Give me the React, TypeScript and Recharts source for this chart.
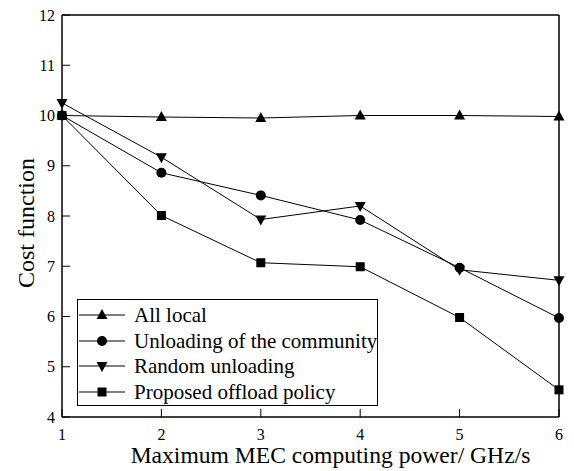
import { LineChart, Line, XAxis, YAxis, Legend, Label } from 'recharts'

// values
const powers = [1, 2, 3, 4, 5, 6]
const allLocal = [10, 9.97, 9.95, 10.0, 10.0, 9.98]
const community = [10, 8.86, 8.41, 7.92, 6.97, 5.97]
const randomUnload = [10.25, 9.17, 7.93, 8.2, 6.93, 6.72]
const proposed = [10, 8.01, 7.07, 6.99, 5.98, 4.54]

const xTicks = [1, 2, 3, 4, 5, 6]
const yTicks = [4, 5, 6, 7, 8, 9, 10, 11, 12]

const seriesNames = ['All local', 'Unloading of the community', 'Random unloading', 'Proposed offload policy']
const seriesKeys = ['allLocal', 'community', 'randomUnload', 'proposed']
const seriesShapes = ['triangle', 'circle', 'down', 'square']

const data = powers.map((x, i) => ({
  x,
  allLocal: allLocal[i],
  community: community[i],
  randomUnload: randomUnload[i],
  proposed: proposed[i],
}))

const FONT = '"Liberation Serif", "DejaVu Serif", serif'
const tickStyle = { fill: '#000', fontSize: 16, fontFamily: FONT, style: { fontFamily: FONT } }

function Marker({ shape, cx, cy }: { shape: string; cx: number; cy: number }) {
  if (shape === 'triangle') {
    return <polygon points={`${cx},${cy - 6} ${cx - 5.5},${cy + 4} ${cx + 5.5},${cy + 4}`} fill="#000" />
  }
  if (shape === 'down') {
    return <polygon points={`${cx},${cy + 6} ${cx - 5.5},${cy - 4} ${cx + 5.5},${cy - 4}`} fill="#000" />
  }
  if (shape === 'square') {
    return <rect x={cx - 4.5} y={cy - 4.5} width={9} height={9} fill="#000" />
  }
  return <circle cx={cx} cy={cy} r={5} fill="#000" />
}

function makeDot(shape: string) {
  return (props: any) => (
    <g key={`${shape}-${props.index}`}>
      <Marker shape={shape} cx={props.cx} cy={props.cy} />
    </g>
  )
}

function LegendBox() {
  return (
    <div
      style={{
        border: '1px solid #000',
        background: '#fff',
        boxSizing: 'border-box',
        width: 301,
        height: 107,
        padding: '2px 0',
        fontFamily: FONT,
        fontSize: 21,
        color: '#000',
      }}
    >
      {seriesNames.map((name, i) => (
        <div key={name} style={{ display: 'flex', alignItems: 'center', height: 25.7 }}>
          <svg width={56} height={20} style={{ flex: 'none' }}>
            <line x1={1} y1={10} x2={47} y2={10} stroke="#000" strokeWidth={1} />
            <Marker shape={seriesShapes[i]} cx={24} cy={10} />
          </svg>
          <span style={{ whiteSpace: 'nowrap', lineHeight: '20px' }}>{name}</span>
        </div>
      ))}
    </div>
  )
}

export default function App() {
  return (
    <div style={{ position: 'absolute', left: 0, top: 0, fontFamily: FONT }}>
      <LineChart
        width={574}
        height={471}
        data={data}
        margin={{ top: 0, right: 0, bottom: 0, left: 0 }}
        style={{ fontFamily: FONT }}
      >
        <XAxis
          dataKey="x"
          type="number"
          domain={[1, 6]}
          ticks={xTicks}
          height={54}
          tickSize={-8}
          tickMargin={20}
          axisLine={{ stroke: '#000', strokeWidth: 1.5 }}
          tickLine={{ stroke: '#000' }}
          tick={tickStyle}
        >
          <Label
            value="Maximum MEC computing power/ GHz/s"
            position="insideBottom"
            offset={8}
            dx={20}
            style={{ fill: '#000', fontSize: 23.6, fontFamily: FONT }}
          />
        </XAxis>
        <XAxis
          xAxisId="top"
          orientation="top"
          dataKey="x"
          type="number"
          domain={[1, 6]}
          ticks={xTicks}
          height={15}
          tickSize={-8}
          tick={false}
          axisLine={{ stroke: '#000', strokeWidth: 1.5 }}
          tickLine={{ stroke: '#000' }}
        />
        <YAxis
          type="number"
          domain={[4, 12]}
          ticks={yTicks}
          width={62}
          tickSize={-8}
          tickMargin={15}
          axisLine={{ stroke: '#000', strokeWidth: 1.5 }}
          tickLine={{ stroke: '#000' }}
          tick={tickStyle}
        >
          <Label
            value="Cost function"
            position="center"
            angle={-90}
            dx={-6}
            dy={7}
            style={{ fill: '#000', fontSize: 24, fontFamily: FONT, textAnchor: 'middle' }}
          />
        </YAxis>
        <YAxis
          yAxisId="right"
          orientation="right"
          type="number"
          domain={[4, 12]}
          ticks={yTicks}
          width={15}
          tickSize={-8}
          tick={false}
          axisLine={{ stroke: '#000', strokeWidth: 1.5 }}
          tickLine={{ stroke: '#000' }}
        />
        <Legend
          layout="vertical"
          align="center"
          verticalAlign="middle"
          wrapperStyle={{ left: 77, top: 299, width: 301, height: 107 }}
          content={() => <LegendBox />}
        />
        {seriesKeys.map((key, i) => (
          <Line
            key={key}
            type="linear"
            dataKey={key}
            name={seriesNames[i]}
            stroke="#000"
            strokeWidth={1}
            dot={makeDot(seriesShapes[i])}
            activeDot={false}
            isAnimationActive={false}
          />
        ))}
      </LineChart>
    </div>
  )
}
